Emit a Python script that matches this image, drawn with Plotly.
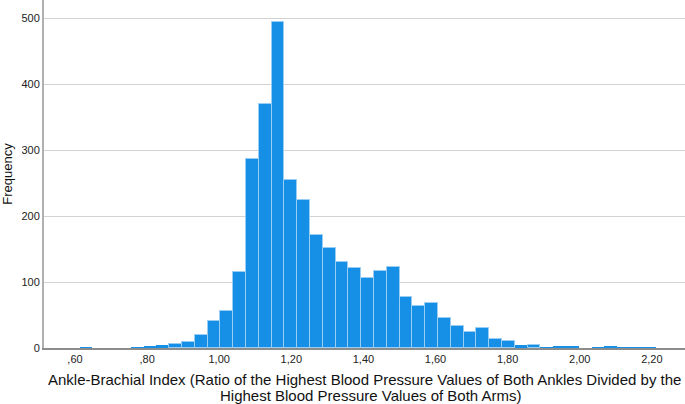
import plotly.graph_objects as go

# Histogram bins (SPSS style): first bin left edge and width
bin_start = 0.613
bin_width = 0.0355
counts = [1, 0, 0, 0, 1, 2, 4, 6, 9, 20, 41, 56, 116, 287, 370, 495, 255, 224,
          171, 151, 130, 122, 106, 117, 123, 78, 63, 68, 45, 33, 24, 31, 13, 10,
          4, 5, 1, 3, 2, 0, 1, 2, 1, 1, 1]
centers = [bin_start + bin_width * (i + 0.5) for i in range(len(counts))]

x_tick_vals = [0.6, 0.8, 1.0, 1.2, 1.4, 1.6, 1.8, 2.0, 2.2]
x_tick_text = [",60", ",80", "1,00", "1,20", "1,40", "1,60", "1,80", "2,00", "2,20"]
y_tick_vals = [0, 100, 200, 300, 400, 500]

FILL = "#1590E6"
line_colors = ["rgba(0,0,0,0)" if c < 5 else "#9ACDF3" for c in counts]
line_widths = [0 if c < 5 else 1 for c in counts]

fig = go.Figure(go.Bar(
    x=centers, y=counts, width=[bin_width] * len(counts),
    marker=dict(color=FILL, line=dict(color=line_colors, width=line_widths)),
))

fig.update_layout(
    width=685, height=404,
    margin=dict(l=44, r=0, t=0, b=56, autoexpand=False),
    plot_bgcolor="white", paper_bgcolor="white",
    font=dict(family="Liberation Sans, Arial, sans-serif", color="#222222", size=11),
    showlegend=False,
    bargap=0,
    xaxis=dict(range=[0.514, 2.292], tickvals=x_tick_vals, ticktext=x_tick_text,
               showgrid=False, zeroline=False, showline=True, linecolor="#8c8c8c",
               linewidth=1.5, ticks="", tickfont=dict(size=11), automargin=False),
    yaxis=dict(range=[0, 528], tickvals=y_tick_vals, showgrid=True,
               gridcolor="#d2d2d2", gridwidth=1, zeroline=False, showline=True,
               linecolor="#b0b0b0", linewidth=2, ticks="", tickfont=dict(size=11),
               automargin=False,
               title=dict(text="Frequency", font=dict(size=13, color="#111111"), standoff=10)),
    annotations=[
        dict(text="Ankle-Brachial Index (Ratio of the Highest Blood Pressure Values of Both Ankles Divided by the",
             xref="paper", yref="paper", x=0.5, y=-0.0891, xanchor="center", yanchor="middle",
             showarrow=False, font=dict(size=15, color="#111111")),
        dict(text="Highest Blood Pressure Values of Both Arms)",
             xref="paper", yref="paper", x=0.51, y=-0.1379, xanchor="center", yanchor="middle",
             showarrow=False, font=dict(size=15, color="#111111")),
    ],
)

fig.write_html("out.html", config={"displayModeBar": False},
               post_script="document.body.style.margin='0px';document.body.style.padding='0px';")
